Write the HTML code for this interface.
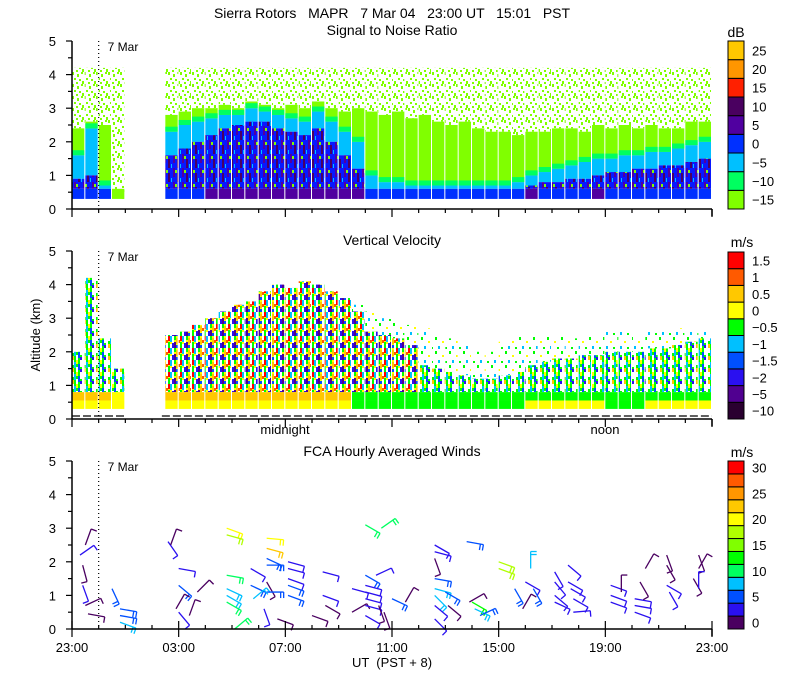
<!DOCTYPE html>
<html><head><meta charset="utf-8"><style>
html,body{margin:0;padding:0;background:#fff}
svg{display:block}
text{font-family:"Liberation Sans",sans-serif;fill:#000}
</style></head><body>
<svg id="chart" width="800" height="700" viewBox="0 0 800 700">
<defs>
<pattern id="speck" width="12" height="12" patternUnits="userSpaceOnUse">
<rect x="0" y="0" width="2" height="3" fill="#80ff00"/><rect x="5" y="2" width="2" height="3" fill="#80ff00"/>
<rect x="9" y="0" width="2" height="2" fill="#80ff00"/><rect x="2" y="6" width="2" height="2" fill="#80ff00"/>
<rect x="7" y="7" width="2" height="2" fill="#80ff00"/><rect x="10" y="9" width="2" height="3" fill="#80ff00"/>
<rect x="4" y="10" width="2" height="2" fill="#80ff00"/>
</pattern>
<pattern id="blueMix" width="9" height="14" patternUnits="userSpaceOnUse">
<rect width="9" height="14" fill="#0818ff"/><rect x="2" y="0" width="2" height="9" fill="#5000a0"/>
<rect x="6" y="5" width="2" height="9" fill="#4a0060"/><rect x="0" y="10" width="1" height="4" fill="#00c0ff"/>
<rect x="4" y="2" width="2" height="3" fill="#80ff00"/>
</pattern>
<pattern id="mixC" width="12" height="12" patternUnits="userSpaceOnUse">
<rect width="12" height="12" fill="#ffff00"/><rect x="0" y="0" width="2" height="5" fill="#ff0000"/>
<rect x="2" y="0" width="2" height="6" fill="#00c0ff"/><rect x="4" y="0" width="2" height="7" fill="#fff"/>
<rect x="4" y="7" width="2" height="5" fill="#2a10f0"/>
<rect x="6" y="0" width="2" height="4" fill="#00ff00"/><rect x="8" y="2" width="2" height="6" fill="#ffc800"/>
<rect x="0" y="6" width="2" height="6" fill="#00ff00"/><rect x="6" y="6" width="2" height="6" fill="#500090"/>
<rect x="2" y="8" width="2" height="4" fill="#fff"/><rect x="8" y="9" width="2" height="3" fill="#0050ff"/>
<rect x="10" y="0" width="2" height="12" fill="#fff"/><rect x="10" y="4" width="2" height="3" fill="#ff5a00"/>
</pattern>
<pattern id="mixG" width="12" height="12" patternUnits="userSpaceOnUse">
<rect width="12" height="12" fill="#00ff00"/><rect x="0" y="0" width="2" height="5" fill="#fff"/>
<rect x="2" y="2" width="2" height="6" fill="#00c0ff"/><rect x="4" y="0" width="2" height="4" fill="#ffff00"/>
<rect x="6" y="4" width="2" height="6" fill="#0050ff"/><rect x="8" y="0" width="2" height="7" fill="#fff"/>
<rect x="0" y="8" width="2" height="4" fill="#ffc800"/><rect x="4" y="7" width="2" height="5" fill="#fff"/>
<rect x="8" y="9" width="2" height="3" fill="#2a10f0"/><rect x="10" y="0" width="2" height="12" fill="#fff"/>
</pattern>
<pattern id="sparse" width="14" height="14" patternUnits="userSpaceOnUse">
<rect x="1" y="1" width="2" height="3" fill="#00ff00"/><rect x="8" y="5" width="2" height="2" fill="#ffff00"/>
<rect x="4" y="10" width="2" height="3" fill="#00c0ff"/><rect x="11" y="11" width="2" height="2" fill="#00ff00"/>
</pattern>
</defs>

<text x="392" y="18" text-anchor="middle" font-size="14" xml:space="preserve">Sierra Rotors   MAPR   7 Mar 04   23:00 UT   15:01   PST</text>
<text x="392" y="35" text-anchor="middle" font-size="14">Signal to Noise Ratio</text>
<text x="392" y="245" text-anchor="middle" font-size="14">Vertical Velocity</text>
<text x="392" y="456" text-anchor="middle" font-size="14">FCA Hourly Averaged Winds</text>
<text x="736" y="37" text-anchor="middle" font-size="14">dB</text>
<text x="742" y="247" text-anchor="middle" font-size="14">m/s</text>
<text x="742" y="457" text-anchor="middle" font-size="14">m/s</text>
<text transform="translate(40,335) rotate(-90)" text-anchor="middle" font-size="13">Altitude (km)</text>
<text x="392" y="667" text-anchor="middle" font-size="13" xml:space="preserve">UT  (PST + 8)</text>
<text x="285" y="434" text-anchor="middle" font-size="13">midnight</text>
<text x="605" y="434" text-anchor="middle" font-size="13">noon</text>
<g id="g"></g>
</svg>
<script>
// ---------- data ----------
const n=null;
const xTickLabels=["23:00","03:00","07:00","11:00","15:00","19:00","23:00"];
const yTickLabels=["0","1","2","3","4","5"];
const snrBins=[-15,-10,-5,0,5,10,15,20,25];
const vvBins=[-10,-5,-2,-1.5,-1,-0.5,0,0.5,1,1.5];
const windBins=[0,2.5,5,7.5,10,12.5,15,17.5,20,22.5,25,27.5,30];
// half-hour columns starting 23:00 UT (km)
const snrLimeTop=[2.4,2.6,2.5,0.3,n,n,n,2.8,2.9,3.0,3.0,3.1,3.0,3.2,3.1,3.0,3.1,3.0,3.2,3.0,2.9,3.0,2.9,2.8,2.9,2.7,2.8,2.6,2.5,2.6,2.4,2.3,2.3,2.2,2.3,2.3,2.4,2.4,2.3,2.5,2.4,2.5,2.4,2.5,2.4,2.4,2.6,2.6];
const snrCyanTop=[1.6,2.4,0.7,0.3,n,n,n,2.3,2.5,2.6,2.7,2.8,2.8,3.0,2.9,2.8,2.7,2.6,2.9,2.6,2.3,2.0,1.0,0.8,0.8,0.7,0.7,0.7,0.7,0.7,0.7,0.7,0.7,0.8,1.0,1.1,1.2,1.3,1.4,1.5,1.5,1.6,1.6,1.7,1.7,1.8,1.9,2.0];
const snrBlueTop=[0.9,1.0,0.6,0.3,n,n,n,1.6,1.8,2.0,2.2,2.4,2.5,2.6,2.6,2.4,2.3,2.2,2.4,2.0,1.6,1.2,0.6,0.6,0.6,0.6,0.6,0.6,0.6,0.6,0.6,0.6,0.6,0.6,0.7,0.8,0.8,0.9,0.9,1.0,1.1,1.1,1.2,1.2,1.3,1.3,1.4,1.5];
const snrBase=[0,0,0,n,n,n,n,0,0,0,5,5,5,5,5,5,5,5,5,5,5,5,0,0,0,0,0,0,0,0,0,0,0,0,5,0,0,0,0,5,0,0,0,0,0,0,0,0];
const vvMixTop=[2.0,4.2,2.4,1.5,n,n,n,2.5,2.6,2.8,3.0,3.2,3.4,3.5,3.8,4.0,3.9,4.1,4.0,3.8,3.6,3.2,2.6,2.5,2.4,2.2,1.6,1.5,1.4,1.3,1.2,1.2,1.3,1.4,1.6,1.7,1.8,1.8,1.9,1.9,2.0,2.0,2.0,2.1,2.1,2.2,2.3,2.4];
const vvSparseTop=[2.0,4.2,2.4,1.5,n,n,n,2.5,2.6,2.8,3.0,3.2,3.4,3.5,3.8,4.0,3.9,4.1,4.0,3.8,3.6,3.4,3.2,3.0,2.9,2.8,2.7,2.5,2.4,2.2,2.0,2.0,2.3,2.5,2.5,2.5,2.5,2.4,2.5,2.5,2.6,2.6,2.5,2.6,2.6,2.7,2.6,2.6];
const vvBand1=[0,0,0,n,n,n,n,0,0,0,0,0,0,0,0,0,0,0,0,0,0,-0.5,-0.5,-0.5,-0.5,-0.5,-0.5,-0.5,-0.5,-0.5,-0.5,-0.5,-0.5,-0.5,0,0,0,0,0,0,-0.5,-0.5,-0.5,0,0,0,0,0];
const vvBand2=[0.5,0.5,0.5,n,n,n,n,0.5,0.5,0.5,0.5,0.5,0.5,0.5,0.5,0.5,0.5,0.5,0.5,0.5,0.5,-0.5,-0.5,-0.5,-0.5,-0.5,-0.5,-0.5,-0.5,-0.5,-0.5,-0.5,-0.5,-0.5,-0.5,-0.5,-0.5,-0.5,-0.5,-0.5,-0.5,-0.5,-0.5,-0.5,-0.5,-0.5,-0.5,-0.5];
const vvType=["g","g","g","g",n,n,n,"c","c","c","c","c","c","c","c","c","c","c","c","c","c","c","c","c","c","c","g","g","g","g","g","g","g","g","g","g","g","g","g","g","g","g","g","g","g","g","g","g"];
// wind barbs: hours after 23:00 UT, altitude km, speed m/s, staff direction deg
const barbHour=[0.3,0.5,0.4,0.4,0.5,0.6,1.5,1.8,1.8,1.8,3.6,3.7,4.0,4.0,3.9,4.0,4.4,4.7,5.8,5.8,5.8,5.8,5.8,5.8,6.1,6.7,6.7,6.8,7.3,7.3,7.3,7.3,7.3,7.3,7.2,7.7,8.1,8.1,8.1,8.1,8.1,9.0,9.4,9.4,9.5,10.5,10.5,11.0,11.6,11.0,11.0,11.0,11.0,11.0,11.0,11.4,11.5,11.7,12.0,12.5,13.6,13.6,13.6,13.6,13.6,13.6,13.6,13.6,14.0,14.1,14.8,14.9,15.0,15.1,15.3,16.0,16.0,16.6,16.9,17.2,17.0,17.3,18.1,18.1,18.1,18.1,18.6,18.6,18.7,18.8,18.8,20.2,20.2,20.2,20.6,21.1,21.1,21.1,21.3,21.5,22.3,22.3,22.4,22.3,23.5,23.3,23.5,23.5];
const barbAlt=[2.2,2.5,1.9,1.3,0.7,0.45,1.2,0.6,0.4,0.2,2.6,2.5,1.8,1.3,0.6,0.5,0.4,1.1,3.0,2.8,1.6,1.2,1.0,0.8,0.0,1.8,1.3,0.9,2.7,2.4,2.1,1.9,1.4,1.1,0.6,0.3,2.0,1.8,1.5,1.3,1.0,0.4,1.7,1.0,0.7,1.2,0.5,3.1,3.0,1.6,1.3,1.1,0.9,0.7,0.4,1.6,0.7,0.5,0.9,0.8,2.5,2.3,2.1,1.5,1.2,1.0,0.7,0.3,1.1,0.7,2.6,0.8,0.8,0.6,0.4,2.0,1.8,1.2,0.6,1.8,1.4,1.2,1.7,1.4,1.0,0.8,1.9,1.4,1.2,0.9,0.5,1.3,1.0,0.8,1.1,0.9,0.7,0.5,1.4,1.8,1.9,1.3,1.1,2.2,2.2,1.5,1.8,1.2];
const barbSpeed=[4,2,2,4,2,2,6,6,6,9,4,2,4,6,2,4,2,2,21,18,12,9,9,12,12,4,6,9,21,23,6,6,2,6,4,2,4,4,4,6,6,2,4,4,2,4,2,12,12,6,4,4,4,4,4,4,2,2,6,2,4,4,2,6,9,9,4,4,6,2,6,2,13,9,6,18,18,6,2,9,4,6,4,4,4,4,4,4,4,4,4,4,4,4,2,4,4,4,2,2,2,4,4,2,2,2,2,4];
const barbDir=[-35,-70,75,70,-25,10,65,10,10,20,55,-70,10,40,-60,50,-70,-45,20,15,10,25,30,30,-40,30,25,-40,5,15,25,0,60,0,70,20,15,15,20,20,20,20,15,20,30,15,-30,30,-35,30,15,15,15,15,30,-25,70,70,25,-60,30,15,70,10,15,45,40,45,30,40,10,-30,30,25,-25,20,20,60,-60,-90,30,60,60,50,40,25,40,30,30,30,-5,20,20,20,-90,10,10,20,60,-60,60,30,60,70,70,60,-60,-90];
// ---------- styles ----------
const snrColors=["#80ff00","#00ff60","#00c0ff","#0030ff","#5000a0","#4a0060","#ff2000","#ff9600","#ffc800"];
const vvColors=["#2a0030","#500090","#2a10f0","#0050ff","#00c0ff","#00ff00","#ffff00","#ffc800","#ff5a00","#ff0000"];
const windColors=["#4a0060","#2a10f0","#0050ff","#00c0ff","#00ff60","#00ff00","#80ff00","#b0ff00","#ffff00","#ffc800","#ff9600","#ff5a00","#ff0000"];
const NS="http://www.w3.org/2000/svg";
const G=document.getElementById("g");
const X0=72,X1=712,HOURS=24,KM=5;
const panels=[{top:41,bot:209,name:"snr"},{top:251,bot:419,name:"vv"},{top:461,bot:629,name:"winds"}];
const xs=h=>X0+h*(X1-X0)/HOURS;
const ys=(p,k)=>p.bot-k*(p.bot-p.top)/KM;
function el(tag,attrs,parent){const e=document.createElementNS(NS,tag);for(const k in attrs)e.setAttribute(k,attrs[k]);(parent||G).appendChild(e);return e;}
function binIndex(bins,v){let i=0;for(let j=0;j<bins.length;j++){if(v>=bins[j])i=j;}return i;}
const colW=0.5;
// SNR panel
const p1=panels[0];
const snrG=el("g",{});


for(let i=0;i<snrLimeTop.length;i++){
  if(snrLimeTop[i]===null)continue;
  const x=xs(i*colW),w=xs((i+1)*colW)-x-1;
  const layers=[[4.2,snrLimeTop[i],"url(#speck)"],[snrLimeTop[i],snrCyanTop[i],snrColors[0]],[snrCyanTop[i],snrBlueTop[i],snrColors[2]],[snrBlueTop[i],0.6,"url(#blueMix)"],[0.6,0.3,snrColors[binIndex(snrBins,snrBase[i]===null?-15:snrBase[i])]]];
  layers.forEach(([t,b,f])=>{
    if(t<=b)return;
    const r=el("rect",{x:x,y:ys(p1,t),width:w,height:ys(p1,b)-ys(p1,t),fill:f},snrG);
    
    
  });
  if(snrCyanTop[i]>0.6){const gb=el("rect",{x:x,y:ys(p1,snrCyanTop[i]+0.15),width:w,height:ys(p1,snrCyanTop[i])-ys(p1,snrCyanTop[i]+0.15),fill:snrColors[1]},snrG);
    
    }
}
// VV panel
const p2=panels[1];
const vvG=el("g",{});


for(let i=0;i<vvMixTop.length;i++){
  if(vvMixTop[i]===null)continue;
  const x=xs(i*colW),w=xs((i+1)*colW)-x-1;
  const layers=[[vvSparseTop[i],vvMixTop[i],"url(#sparse)"],[vvMixTop[i],0.8,vvType[i]==="c"?"url(#mixC)":"url(#mixG)"],[0.8,0.55,vvColors[binIndex(vvBins,vvBand2[i])]],[0.55,0.3,vvColors[binIndex(vvBins,vvBand1[i])]]];
  layers.forEach(([t,b,f])=>{
    if(t<=b)return;
    const r=el("rect",{x:x,y:ys(p2,t),width:w,height:ys(p2,b)-ys(p2,t),fill:f},vvG);
    
    
  });
}
[[0,2.03],[3.37,24]].forEach(([a,b])=>{
  const l=el("line",{x1:xs(a),x2:xs(b),y1:p2.bot-3,y2:p2.bot-3,stroke:"#000","stroke-width":1.2,"stroke-dasharray":"8 3"});
  
  
});
// Wind barbs
const p3=panels[2];
const wG=el("g",{});


for(let i=0;i<barbHour.length;i++){
  const bx=xs(barbHour[i]),by=ys(p3,barbAlt[i]);
  const a=barbDir[i]*Math.PI/180,L=17;
  const ex=bx+L*Math.cos(a),ey=by+L*Math.sin(a);
  const c=windColors[Math.min(12,Math.floor(barbSpeed[i]/2.5))];
  const g=el("g",{stroke:c,"stroke-width":1.3,fill:"none"},wG);
  
  
  el("line",{x1:bx,y1:by,x2:ex,y2:ey},g);
  const nf=barbSpeed[i]>=5?2:1;
  const pa=a+Math.PI/2;
  for(let k=0;k<nf;k++){
    const fx=ex-k*3*Math.cos(a),fy=ey-k*3*Math.sin(a);
    el("line",{x1:fx,y1:fy,x2:fx+6*Math.cos(pa),y2:fy+6*Math.sin(pa)},g);
  }
}
// axes
panels.forEach((p,pi)=>{
  const ax=el("g",{});
  
  
  el("line",{x1:X0,x2:X0,y1:p.top,y2:p.bot,stroke:"#000","stroke-width":1.5},ax);
  el("line",{x1:X0,x2:X1,y1:p.bot,y2:p.bot,stroke:"#000","stroke-width":1.5},ax);
  el("line",{x1:X1,x2:X1,y1:p.bot,y2:p.bot+7,stroke:"#000","stroke-width":1.5},ax);
  for(let k=0;k<=10;k++){const y=ys(p,k*0.5);el("line",{x1:X0-(k%2?4:6),x2:X0,y1:y,y2:y,stroke:"#000","stroke-width":1.2},ax);}
  yTickLabels.forEach((t,k)=>{const tx=el("text",{x:56,y:ys(p,k)+5,"text-anchor":"end","font-size":13},ax);tx.textContent=t;
    
    });
  for(let h=0;h<=HOURS;h++){const x=xs(h),maj=h%4===0;
    if(pi<2)el("line",{x1:x,x2:x,y1:p.bot,y2:p.bot+(maj?8:4),stroke:"#000","stroke-width":1.2},ax);
    else el("line",{x1:x,x2:x,y1:p.bot-(maj?8:4),y2:p.bot+(maj?8:0),stroke:"#000","stroke-width":1.2},ax);}
  el("line",{x1:xs(1),x2:xs(1),y1:p.top,y2:p.bot,stroke:"#000","stroke-width":1.2,"stroke-dasharray":"1 3"},ax);
  const d=el("text",{x:xs(1)+9,y:p.top+10,"font-size":12},ax);d.textContent="7 Mar";
  
  
});
xTickLabels.forEach((t,k)=>{const tx=el("text",{x:xs(k*4),y:652,"text-anchor":"middle","font-size":13});tx.textContent=t;
  
  });
// colorbars
function colorbar(cols,labels,top,bot,name,step){
  const g=el("g",{});
  
  
  const h=(bot-top)/cols.length;
  cols.forEach((c,i)=>{el("rect",{x:728,y:bot-(i+1)*h,width:16,height:h,fill:c,stroke:"#000","stroke-width":1},g);});
  labels.forEach((v,i)=>{if(i%step)return;const t=el("text",{x:752,y:bot-(i+0.5)*h+5,"font-size":13},g);t.textContent=String(v).replace("-","\u2212");});
}
colorbar(snrColors,snrBins,41,209,"snr-colorbar",1);
colorbar(vvColors,vvBins,252,419,"vv-colorbar",1);
colorbar(windColors,windBins,461,629,"wind-colorbar",2);
</script>
</body></html>
